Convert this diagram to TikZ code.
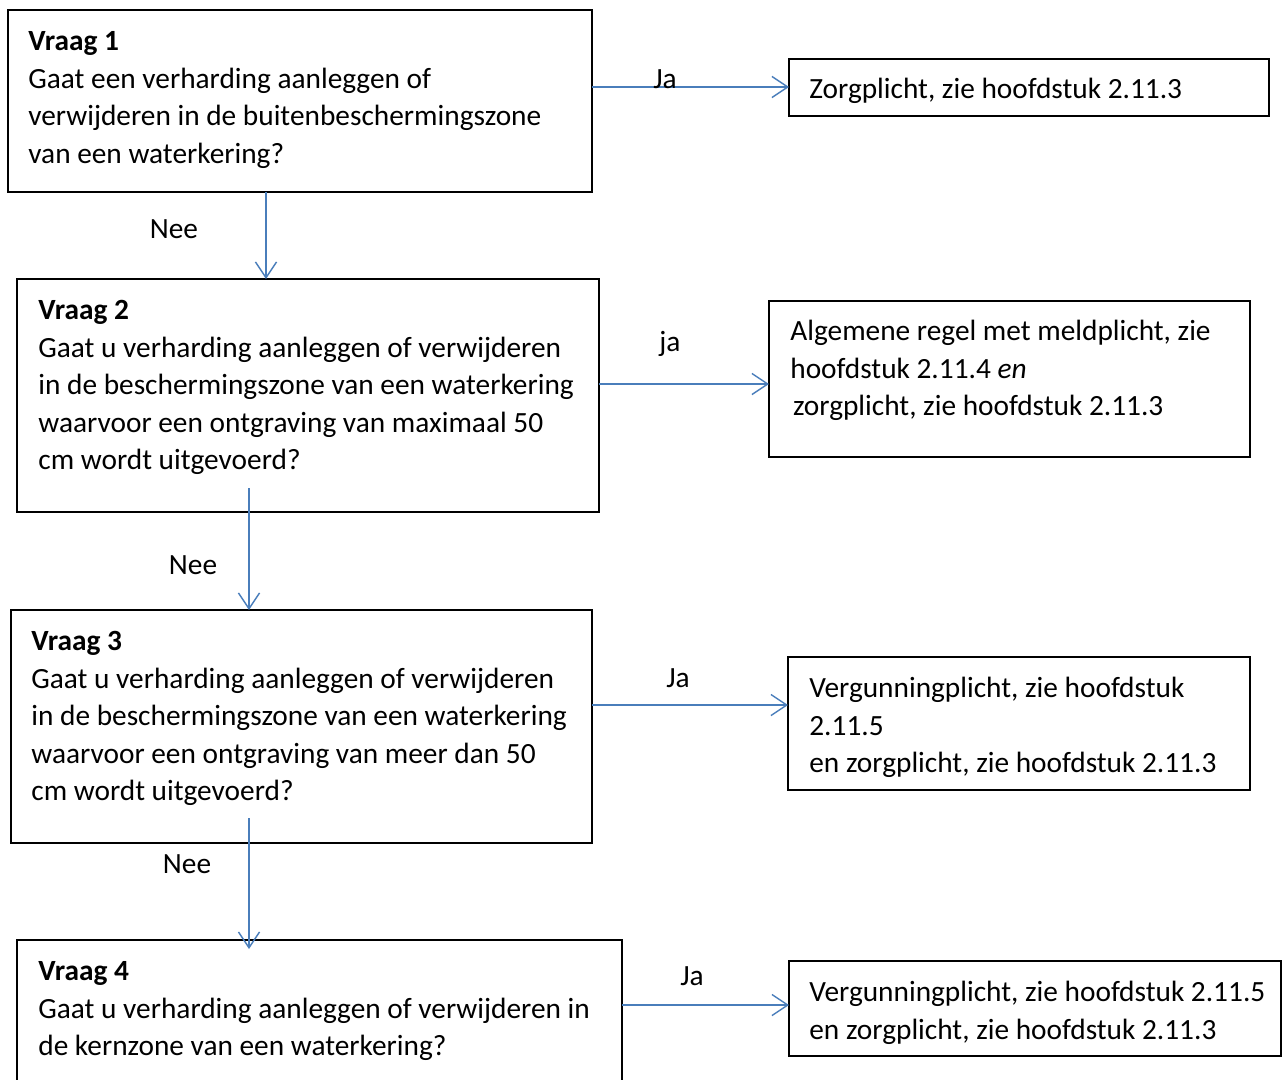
\documentclass[tikz,border=0pt]{standalone}
\usepackage{fontspec}
\setmainfont{Carlito}
\usepackage{xcolor}
\definecolor{flowblue}{RGB}{74,126,187}
\usetikzlibrary{arrows.meta}

\begin{document}
\begin{tikzpicture}[x=0.02cm, y=-0.02cm,
  box/.style={draw, line width=0.9pt, anchor=north west, inner sep=0pt, outer sep=0pt},
  txt/.style={anchor=base west, align=left, inner sep=0pt, font=\fontsize{16.7}{21.3}\selectfont},
  lbl/.style={anchor=base, inner sep=0pt, font=\fontsize{16.7}{21.3}\selectfont},
  flow/.style={draw=flowblue, line width=0.8pt, -{Straight Barb[length=9pt, width=12pt]}}]
  \clip (0,0) rectangle (1283,1079);

  % --- Question boxes ---
  \node[box, minimum width=11.68cm, minimum height=3.64cm] (q1) at (8,10) {};
  \node[box, minimum width=11.64cm, minimum height=4.66cm] (q2) at (17,279) {};
  \node[box, minimum width=11.62cm, minimum height=4.66cm] (q3) at (11,610) {};
  \node[box, minimum width=12.1cm,  minimum height=4.0cm]  (q4) at (17,940) {};

  % --- Result boxes ---
  \node[box, minimum width=9.6cm,  minimum height=1.14cm] (r1) at (789,59) {};
  \node[box, minimum width=9.62cm, minimum height=3.12cm] (r2) at (769,301) {};
  \node[box, minimum width=9.24cm, minimum height=2.66cm] (r3) at (788,657) {};
  \node[box, minimum width=9.84cm, minimum height=1.9cm]  (r4) at (789,961) {};

  % Question texts (placed at the baseline of their last line)
  \node[txt] (q1text) at (28,163) {\textbf{Vraag 1}\\Gaat een verharding aanleggen of\\verwijderen in de buitenbeschermingszone\\van een waterkering?};
  \node[txt] (q2text) at (38,469.5) {\textbf{Vraag 2}\\Gaat u verharding aanleggen of verwijderen\\in de beschermingszone van een waterkering\\waarvoor een ontgraving van maximaal 50\\cm wordt uitgevoerd?};
  \node[txt] (q3text) at (31,800.5) {\textbf{Vraag 3}\\Gaat u verharding aanleggen of verwijderen\\in de beschermingszone van een waterkering\\waarvoor een ontgraving van meer dan 50\\cm wordt uitgevoerd?};
  \node[txt] (q4text) at (38,1055.5) {\textbf{Vraag 4}\\Gaat u verharding aanleggen of verwijderen in\\de kernzone van een waterkering?};

  % Result texts
  \node[txt] (r1text) at (809,98.5) {Zorgplicht, zie hoofdstuk 2.11.3};
  \node[txt] (r2text) at (790,415.5) {Algemene regel met meldplicht, zie\\hoofdstuk 2.11.4 \emph{en}\\\hspace{1.5pt}zorgplicht, zie hoofdstuk 2.11.3};
  \node[txt] (r3text) at (809,772.5) {Vergunningplicht, zie hoofdstuk\\2.11.5\\en zorgplicht, zie hoofdstuk 2.11.3};
  \node[txt] (r4text) at (809,1039) {Vergunningplicht, zie hoofdstuk 2.11.5\\en zorgplicht, zie hoofdstuk 2.11.3};

  % --- Ja arrows ---
  \coordinate (j1) at (600,87);
  \coordinate (j2) at (600,384);
  \coordinate (j3) at (600,705);
  \coordinate (j4) at (600,1005);
  \draw[flow] (q1.east |- j1) -- (r1.west |- j1);
  \draw[flow] (q2.east |- j2) -- (r2.west |- j2);
  \draw[flow] (q3.east |- j3) -- (r3.west |- j3);
  \draw[flow] (q4.east |- j4) -- (r4.west |- j4);
  \node[lbl] (ja1) at (665,88) {Ja};
  \node[lbl] (ja2) at (670,351) {ja};
  \node[lbl] (ja3) at (678,687) {Ja};
  \node[lbl] (ja4) at (692,985) {Ja};

  % --- Nee arrows ---
  \coordinate (n1) at (266,0);
  \coordinate (n2) at (249,488);
  \coordinate (n3) at (249,818);
  \coordinate (n3end) at (249,949);
  \draw[flow] (q1.south -| n1) -- (q2.north -| n1);
  \draw[flow] (n2) -- (q3.north -| n2);
  \draw[flow] (n3) -- (n3end);
  \node[lbl] (nee1) at (174,238) {Nee};
  \node[lbl] (nee2) at (193,574) {Nee};
  \node[lbl] (nee3) at (187,873) {Nee};
\end{tikzpicture}
\end{document}
